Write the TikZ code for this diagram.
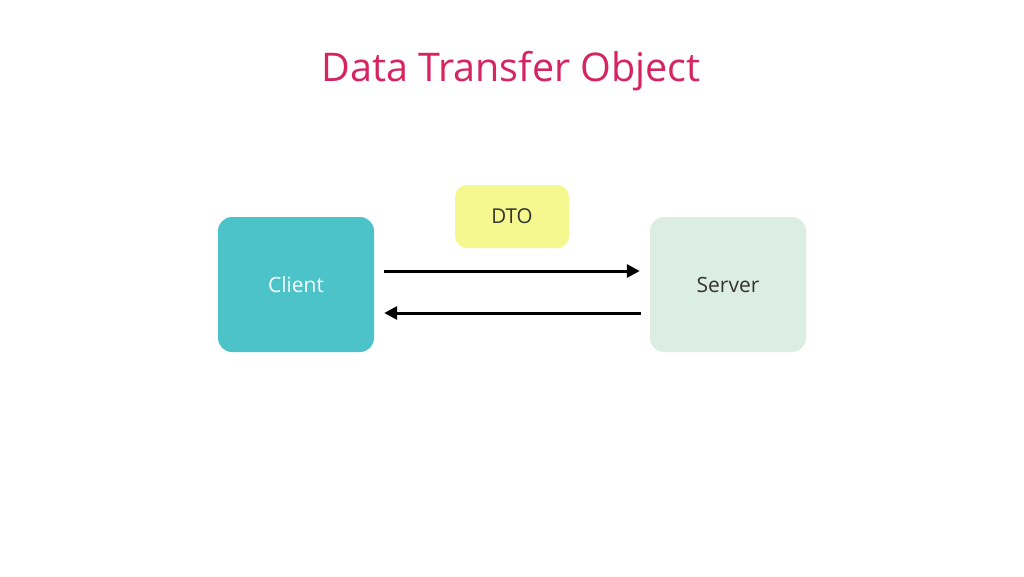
\documentclass[tikz,border=0pt]{standalone}
\usepackage{fontspec}
\setmainfont{Open Sans}
\usetikzlibrary{arrows.meta}
\definecolor{titlecol}{HTML}{D5245E}
\definecolor{clientcol}{HTML}{4CC3C9}
\definecolor{servercol}{HTML}{DCEEE4}
\definecolor{dtocol}{HTML}{F5F78F}
\definecolor{darktext}{HTML}{333333}
\tikzset{
  x=1pt, y=-1pt,
  box/.style={rounded corners=14pt, minimum width=156pt, minimum height=135pt, inner sep=0pt, font=\fontsize{21}{25}\selectfont},
  smallbox/.style={rounded corners=12pt, minimum width=114pt, minimum height=63pt, inner sep=0pt, font=\fontsize{20.5}{24}\selectfont},
  flow/.style={line width=3pt, -{Triangle[length=13pt,width=13pt]}}
}
\begin{document}
\begin{tikzpicture}
\useasboundingbox[fill=white] (0,0) rectangle (1024,576);
\node[text=titlecol, font=\fontsize{39.5}{48}\selectfont] (title) at (511,71) {Data Transfer Object};
\node[box, fill=clientcol, text=white] (client) at (296,284.5) {Client};
\node[box, fill=servercol, text=darktext] (server) at (728,284.5) {Server};
\node[smallbox, fill=dtocol, text=darktext] (dto) at (512,216.5) {DTO};
\draw[flow] ([xshift=10pt]client.east |- 0,271) -- ([xshift=-10pt]server.west |- 0,271);
\draw[flow] ([xshift=-9pt]server.west |- 0,313) -- ([xshift=10pt]client.east |- 0,313);
\end{tikzpicture}
\end{document}
